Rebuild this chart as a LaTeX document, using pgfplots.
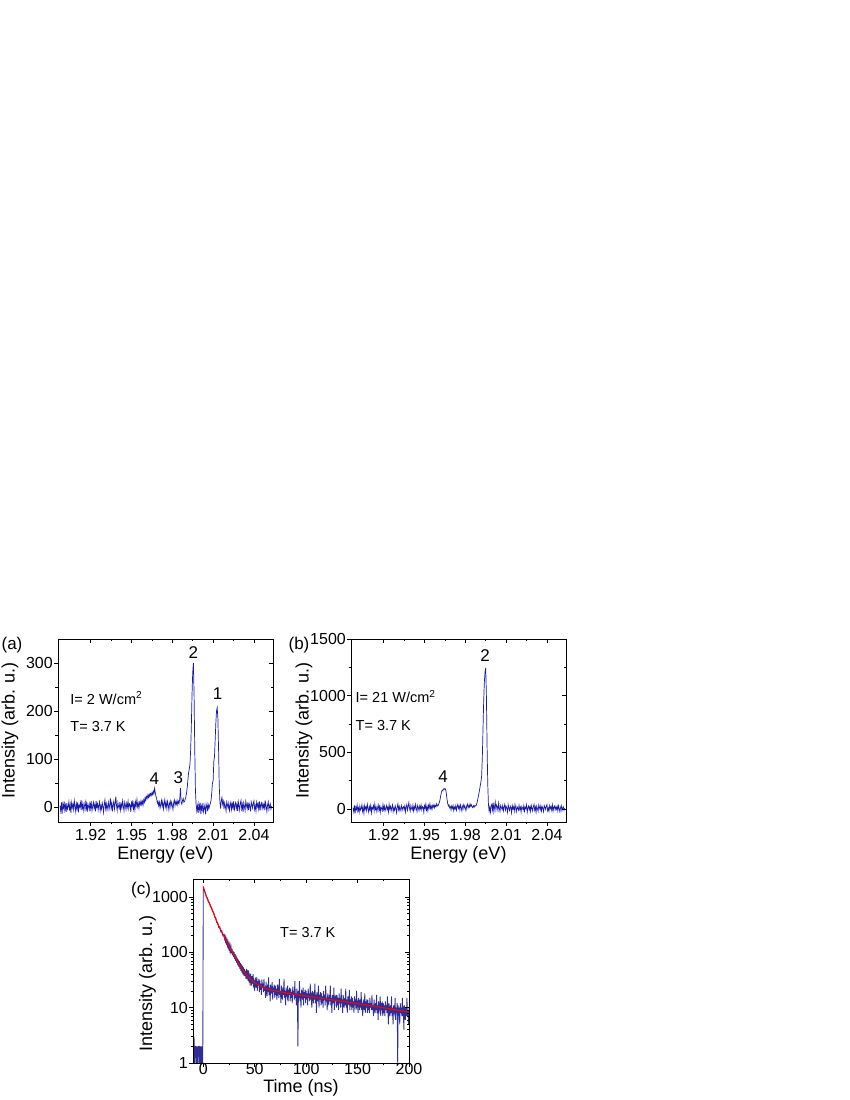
\documentclass[border=0pt]{standalone}
\usepackage{pgfplots}
\pgfplotsset{compat=1.18}
\usepackage{fontspec}
\setmainfont{Liberation Sans}
\definecolor{specblue}{RGB}{25,25,170}
\definecolor{decayblue}{RGB}{10,10,130}
\pgfplotsset{
  panel/.style={scale only axis, anchor=south west,
    axis line style={line width=0.8pt},
    every tick/.style={black, line width=0.6pt},
    major tick length=4pt, minor tick length=2.5pt,
    tick label style={font=\fontsize{16}{19}\selectfont},
    yticklabel style={inner sep=1pt},
    label style={font=\fontsize{18}{21}\selectfont},
    /pgf/number format/assume math mode=true,
    /pgf/number format/1000 sep={}},
  lowerticks/.style={tick align=outside, xtick pos=left, ytick pos=left},
  upperticks/.style={tick align=inside, xtick pos=right, ytick pos=right, xticklabels={}, yticklabels={}},
  specx/.style={xmin=1.896, xmax=2.054, xtick={1.92,1.95,1.98,2.01,2.04}, minor x tick num=1,
    xticklabel style={/pgf/number format/fixed, /pgf/number format/precision=2, /pgf/number format/fixed zerofill}},
}
\begin{document}
\begin{tikzpicture}
\useasboundingbox[fill=white] (0pt,0pt) rectangle (850pt,1100pt);
% ---------------- (a)
\begin{axis}[panel, lowerticks, specx, at={(58pt,278pt)}, width=215pt, height=183pt,
  ymin=-31, ymax=350, ytick={0,100,200,300}, minor y tick num=1,
  xlabel={Energy (eV)}, xlabel style={at={(axis description cs:0.5,-0.18)}, anchor=center},
  ylabel={Intensity (arb. u.)}, ylabel style={at={(axis description cs:-0.223,0.5)}, anchor=center}]
\addplot[specblue, line width=0.7pt] coordinates {
(1.8975,3)(1.898,-8)(1.8985,10)(1.899,-14)(1.8995,6)(1.9,-2)(1.9005,12)(1.901,-6)(1.9015,4)(1.902,-10)
(1.9025,8)(1.903,-4)(1.9035,1)(1.904,11)(1.9045,-7)(1.905,5)(1.9055,-12)(1.906,9)(1.9065,-1)(1.907,6)
(1.9075,-5)(1.908,13)(1.9085,2)(1.909,-9)(1.9095,7)(1.91,-3)(1.9105,10)(1.911,-11)(1.9115,4)(1.912,0)
(1.9125,9)(1.913,-6)(1.9135,14)(1.914,-2)(1.9145,5)(1.915,-8)(1.9155,3)(1.916,11)(1.9165,-4)(1.917,7)
(1.9175,-10)(1.918,6)(1.9185,1)(1.919,-5)(1.9195,12)(1.92,-3)(1.9205,8)(1.921,-7)(1.9215,2)(1.922,10)
(1.9225,-2)(1.923,5)(1.9235,-9)(1.924,13)(1.9245,0)(1.925,7)(1.9255,-6)(1.926,4)(1.9265,11)(1.927,-8)
(1.9275,3)(1.928,-4)(1.9285,9)(1.929,1)(1.9295,-11)(1.93,6)(1.9305,15)(1.931,-3)(1.9315,7)(1.932,-6)
(1.9325,2)(1.933,10)(1.9335,-5)(1.934,4)(1.9345,18)(1.935,-2)(1.9355,8)(1.936,-9)(1.9365,5)(1.937,12)
(1.9375,-4)(1.938,7)(1.9385,22)(1.939,3)(1.9395,-7)(1.94,9)(1.9405,1)(1.941,-3)(1.9415,11)(1.942,-6)
(1.9425,6)(1.943,-1)(1.9435,13)(1.944,2)(1.9445,-8)(1.945,10)(1.9455,4)(1.946,-5)(1.9465,8)(1.947,0)
(1.9475,12)(1.948,-3)(1.9485,7)(1.949,5)(1.9495,-10)(1.95,9)(1.9505,2)(1.951,14)(1.9515,-4)(1.952,6)
(1.9525,-6)(1.953,11)(1.9535,3)(1.954,16)(1.9545,1)(1.955,8)(1.9555,-2)(1.956,10)(1.9565,5)(1.957,13)
(1.9575,5)(1.958,12)(1.9585,4)(1.959,15)(1.9595,10)(1.96,20)(1.9605,14)(1.961,22)(1.9615,18)(1.962,25)
(1.9625,20)(1.963,27)(1.9635,22)(1.964,28)(1.9645,24)(1.965,30)(1.9655,26)(1.966,33)(1.9665,28)(1.967,39)
(1.9675,30)(1.968,22)(1.9685,18)(1.969,8)(1.9695,12)(1.97,3)(1.9705,10)(1.971,-2)(1.9715,6)(1.972,14)
(1.9725,2)(1.973,11)(1.9735,-4)(1.974,7)(1.9745,16)(1.975,1)(1.9755,9)(1.976,-3)(1.9765,12)(1.977,5)
(1.9775,-6)(1.978,8)(1.9785,13)(1.979,0)(1.9795,10)(1.98,4)(1.9805,-5)(1.981,9)(1.9815,15)(1.982,3)
(1.9825,11)(1.983,6)(1.9835,14)(1.984,5)(1.9845,12)(1.985,8)(1.9855,18)(1.986,40)(1.9865,10)(1.987,6)
(1.9875,14)(1.988,18)(1.9885,10)(1.989,12)(1.9895,16)(1.99,22)(1.9905,30)(1.991,42)(1.9915,58)(1.992,72)
(1.9925,80)(1.993,90)(1.9935,120)(1.994,170)(1.9945,235)(1.995,280)(1.9955,300)(1.996,235)(1.9965,120)(1.997,35)
(1.9975,5)(1.998,-8)(1.9985,3)(1.999,-12)(1.9995,6)(2,-5)(2.0005,9)(2.001,-14)(2.0015,2)(2.002,-6)
(2.0025,8)(2.003,-10)(2.0035,-3)(2.004,5)(2.0045,-15)(2.005,1)(2.0055,7)(2.006,-9)(2.0065,4)(2.007,-2)
(2.0075,4)(2.008,8)(2.0085,15)(2.009,30)(2.0095,50)(2.01,55)(2.0105,95)(2.011,105)(2.0115,140)(2.012,175)
(2.0125,200)(2.013,207)(2.0135,185)(2.014,120)(2.0145,45)(2.015,10)(2.0155,-3)(2.016,14)(2.0165,20)(2.017,6)
(2.0175,12)(2.018,-4)(2.0185,9)(2.019,2)(2.0195,-8)(2.02,11)(2.0205,5)(2.021,-2)(2.0215,8)(2.022,-7)
(2.0225,3)(2.023,10)(2.0235,-5)(2.024,7)(2.0245,-1)(2.025,12)(2.0255,-9)(2.026,4)(2.0265,9)(2.027,-3)
(2.0275,6)(2.028,-8)(2.0285,11)(2.029,2)(2.0295,-6)(2.03,8)(2.0305,14)(2.031,-4)(2.0315,5)(2.032,-10)
(2.0325,9)(2.033,1)(2.0335,-7)(2.034,12)(2.0345,4)(2.035,-3)(2.0355,10)(2.036,-6)(2.0365,7)(2.037,2)
(2.0375,-9)(2.038,11)(2.0385,5)(2.039,-2)(2.0395,8)(2.04,13)(2.0405,-5)(2.041,3)(2.0415,-8)(2.042,10)
(2.0425,1)(2.043,7)(2.0435,-4)(2.044,12)(2.0445,-7)(2.045,5)(2.0455,9)(2.046,-3)(2.0465,6)(2.047,-1)
(2.0475,8)(2.048,-6)(2.0485,10)(2.049,2)(2.0495,-9)(2.05,4)(2.0505,11)(2.051,-5)(2.0515,3)(2.052,7)
(2.0525,-4)(2.053,2)};
\node[font=\fontsize{17}{20}\selectfont] at (axis cs:1.9955,321) {2};
\node[font=\fontsize{17}{20}\selectfont] at (axis cs:2.0133,237) {1};
\node[font=\fontsize{17}{20}\selectfont] at (axis cs:1.9668,60) {4};
\node[font=\fontsize{17}{20}\selectfont] at (axis cs:1.9845,62) {3};
\node[font=\fontsize{14.5}{17}\selectfont, anchor=west, inner sep=0pt] at (axis cs:1.905,227) {I= 2 W/cm\textsuperscript{2}};
\node[font=\fontsize{14.5}{17}\selectfont, anchor=west, inner sep=0pt] at (axis cs:1.905,167) {T= 3.7 K};
\end{axis}
\begin{axis}[panel, upperticks, specx, at={(58pt,278pt)}, width=215pt, height=183pt,
  ymin=-31, ymax=350, ytick={0,100,200,300}, minor y tick num=1]
\end{axis}
% ---------------- (b)
\begin{axis}[panel, lowerticks, specx, at={(351pt,278pt)}, width=215pt, height=183pt,
  ymin=-116, ymax=1500, ytick={0,500,1000,1500}, minor y tick num=1,
  xlabel={Energy (eV)}, xlabel style={at={(axis description cs:0.5,-0.18)}, anchor=center},
  ylabel={Intensity (arb. u.)}, ylabel style={at={(axis description cs:-0.219,0.5)}, anchor=center}]
\addplot[specblue, line width=0.7pt] coordinates {
(1.8975,10)(1.898,-25)(1.8985,30)(1.899,-40)(1.8995,15)(1.9,-5)(1.9005,35)(1.901,-20)(1.9015,8)(1.902,-30)
(1.9025,25)(1.903,-10)(1.9035,5)(1.904,35)(1.9045,-22)(1.905,12)(1.9055,-38)(1.906,28)(1.9065,-3)(1.907,18)
(1.9075,-15)(1.908,40)(1.9085,6)(1.909,-28)(1.9095,20)(1.91,-8)(1.9105,30)(1.911,-35)(1.9115,12)(1.912,0)
(1.9125,28)(1.913,-18)(1.9135,42)(1.914,-5)(1.9145,15)(1.915,-25)(1.9155,8)(1.916,35)(1.9165,-12)(1.917,20)
(1.9175,-30)(1.918,18)(1.9185,3)(1.919,-15)(1.9195,38)(1.92,-8)(1.9205,25)(1.921,-20)(1.9215,5)(1.922,30)
(1.9225,-5)(1.923,15)(1.9235,-28)(1.924,40)(1.9245,0)(1.925,22)(1.9255,-18)(1.926,12)(1.9265,35)(1.927,-25)
(1.9275,8)(1.928,-12)(1.9285,28)(1.929,3)(1.9295,-35)(1.93,18)(1.9305,45)(1.931,-8)(1.9315,20)(1.932,-18)
(1.9325,5)(1.933,30)(1.9335,-15)(1.934,12)(1.9345,20)(1.935,-5)(1.9355,25)(1.936,-28)(1.9365,15)(1.937,38)
(1.9375,-12)(1.938,20)(1.9385,55)(1.939,8)(1.9395,-20)(1.94,28)(1.9405,3)(1.941,-10)(1.9415,32)(1.942,-18)
(1.9425,18)(1.943,-3)(1.9435,40)(1.944,5)(1.9445,-25)(1.945,30)(1.9455,12)(1.946,-15)(1.9465,25)(1.947,0)
(1.9475,35)(1.948,-8)(1.9485,20)(1.949,15)(1.9495,-30)(1.95,28)(1.9505,5)(1.951,42)(1.9515,-12)(1.952,18)
(1.9525,-18)(1.953,32)(1.9535,8)(1.954,45)(1.9545,3)(1.955,25)(1.9555,-5)(1.956,30)(1.9565,15)(1.957,38)
(1.9575,10)(1.958,30)(1.9585,20)(1.959,45)(1.9595,25)(1.96,30)(1.9605,45)(1.961,60)(1.9615,85)(1.962,120)
(1.9625,150)(1.963,165)(1.9635,160)(1.964,175)(1.9645,180)(1.965,170)(1.9655,175)(1.966,140)(1.9665,90)(1.967,50)
(1.9675,25)(1.968,35)(1.9685,10)(1.969,20)(1.9695,-10)(1.97,25)(1.9705,5)(1.971,30)(1.9715,-15)(1.972,15)
(1.9725,0)(1.973,28)(1.9735,-12)(1.974,20)(1.9745,40)(1.975,5)(1.9755,25)(1.976,-10)(1.9765,35)(1.977,12)
(1.9775,-18)(1.978,22)(1.9785,38)(1.979,0)(1.9795,28)(1.98,10)(1.9805,-15)(1.981,25)(1.9815,42)(1.982,8)
(1.9825,30)(1.983,15)(1.9835,45)(1.984,22)(1.9845,35)(1.985,18)(1.9855,10)(1.986,28)(1.9865,15)(1.987,30)
(1.9875,25)(1.988,30)(1.9885,50)(1.989,75)(1.9895,105)(1.99,135)(1.9905,170)(1.991,205)(1.9915,240)(1.992,290)
(1.9925,450)(1.993,700)(1.9935,950)(1.994,1120)(1.9945,1210)(1.995,1245)(1.9955,1000)(1.996,550)(1.9965,220)(1.997,40)
(1.9975,-20)(1.998,15)(1.9985,-30)(1.999,25)(1.9995,40)(2,-10)(2.0005,55)(2.001,-25)(2.0015,18)(2.002,60)
(2.0025,-8)(2.003,35)(2.0035,20)(2.004,-15)(2.0045,50)(2.005,5)(2.0055,-22)(2.006,30)(2.0065,12)(2.007,-5)
(2.0075,28)(2.008,-18)(2.0085,15)(2.009,40)(2.0095,-10)(2.01,22)(2.0105,8)(2.011,-30)(2.0115,35)(2.012,5)
(2.0125,-15)(2.013,25)(2.0135,10)(2.014,-35)(2.0145,30)(2.015,0)(2.0155,18)(2.016,-20)(2.0165,38)(2.017,8)
(2.0175,-25)(2.018,20)(2.0185,5)(2.019,-12)(2.0195,32)(2.02,-5)(2.0205,15)(2.021,-28)(2.0215,22)(2.022,10)
(2.0225,-10)(2.023,28)(2.0235,-20)(2.024,15)(2.0245,3)(2.025,35)(2.0255,-30)(2.026,10)(2.0265,25)(2.027,-8)
(2.0275,18)(2.028,-22)(2.0285,30)(2.029,5)(2.0295,-18)(2.03,22)(2.0305,40)(2.031,-12)(2.0315,15)(2.032,-30)
(2.0325,25)(2.033,2)(2.0335,-20)(2.034,35)(2.0345,12)(2.035,-8)(2.0355,28)(2.036,-18)(2.0365,20)(2.037,5)
(2.0375,-25)(2.038,30)(2.0385,15)(2.039,-5)(2.0395,22)(2.04,38)(2.0405,-15)(2.041,8)(2.0415,-22)(2.042,28)
(2.0425,3)(2.043,20)(2.0435,-12)(2.044,35)(2.0445,-20)(2.045,15)(2.0455,25)(2.046,-8)(2.0465,18)(2.047,-3)
(2.0475,22)(2.048,-18)(2.0485,28)(2.049,5)(2.0495,-25)(2.05,12)(2.0505,30)(2.051,-15)(2.0515,8)(2.052,20)
(2.0525,-12)(2.053,5)};
\node[font=\fontsize{17}{20}\selectfont] at (axis cs:1.9946,1357) {2};
\node[font=\fontsize{17}{20}\selectfont] at (axis cs:1.9637,286) {4};
\node[font=\fontsize{14.5}{17}\selectfont, anchor=west, inner sep=0pt] at (axis cs:1.8993,991) {I= 21 W/cm\textsuperscript{2}};
\node[font=\fontsize{14.5}{17}\selectfont, anchor=west, inner sep=0pt] at (axis cs:1.8993,732) {T= 3.7 K};
\end{axis}
\begin{axis}[panel, upperticks, specx, at={(351pt,278pt)}, width=215pt, height=183pt,
  ymin=-116, ymax=1500, ytick={0,500,1000,1500}, minor y tick num=1]
\end{axis}
% ---------------- (c)
\begin{axis}[panel, lowerticks, at={(193pt,37pt)}, width=216pt, height=184pt,
  xmin=-10, xmax=200, xtick={0,50,100,150,200}, minor x tick num=1,
  xticklabel style={yshift=4pt, inner sep=0.5pt},
  ymode=log, ymin=1, ymax=2100, ytick={1,10,100,1000}, log ticks with fixed point,
  xlabel={Time (ns)}, xlabel style={at={(axis description cs:0.5,-0.137)}, anchor=center, inner sep=0.5pt},
  ylabel={Intensity (arb. u.)}, ylabel style={at={(axis description cs:-0.211,0.432)}, anchor=center}]
\addplot[decayblue, line width=0.85pt, opacity=0.85] coordinates {
(-10,2)(-9.5,1)(-9,3)(-8.5,1)(-8,2)(-7.5,2)(-7,1)(-6.5,2)(-6,1)(-5.5,2)(-5,1)(-4.5,2)(-4,2)(-3.5,1)(-3,2)(-2.5,1)(-2,2)(-1.5,1)(-1,2)(-0.5,1)
(0,1450)(1,1280)(2,1180)(3,1000)(4,950)(5,810)(6,790)(7,660)(8,650)(9,540)(10,530)(11,430)(12,425)(13,345)(14,340)(15,280)(16,290)(17,235)(18,245)(19,200)(20,210)
(20.5,178)(21,195)(21.5,160)(22,180)(22.5,148)(23,165)(23.5,132)(24,152)(24.5,122)(25,140)(25.5,112)(26,132)(26.5,104)(27,122)(27.5,95)(28,115)(28.5,88)(29,106)(29.5,82)(30,100)
(30.5,75)(31,92)(31.5,70)(32,87)(32.5,64)(33,80)(33.5,58)(34,74)(34.5,54)(35,70)(35.5,50)(36,64)(36.5,46)(37,60)(37.5,43)(38,57)(38.5,40)(39,53)(39.5,38)
(40,50)(40.5,37)(41,46)(41.5,33)(42,50)(42.5,37)(43,42)(43.5,30)(44,47)(44.5,32)(45,36)(45.5,25)(46,41)(46.5,32)(47,25)(47.5,37)(48,27)(48.5,40)(49,23)(49.5,31)(50,20)
(50.5,35)(51,27)(51.5,23)(52,36)(52.5,20)(53,30)(53.5,25)(54,33)(54.5,19)(55,31)(55.5,21)(56,27)(56.5,17)(57,32)(57.5,23)(58,27)(58.5,19)(59,33)(59.5,20)(60,24)
(60.5,15)(61,29)(61.5,22)(62,16)(62.5,26)(63,19)(63.5,35)(64,17)(64.5,23)(65,13)(65.5,26)(66,21)(66.5,18)(67,29)(67.5,14)(68,23)(68.5,19)(69,26)(69.5,15)(70,25)
(70.5,17)(71,22)(71.5,14)(72,26)(72.5,19)(73,22)(73.5,15)(74,33)(74.5,17)(75,20)(75.5,12)(76,25)(76.5,19)(77,14)(77.5,23)(78,17)(78.5,33)(79,15)(79.5,20)(80,11)
(80.5,23)(81,18)(81.5,16)(82,25)(82.5,13)(83,21)(83.5,17)(84,23)(84.5,13)(85,22)(85.5,15)(86,19)(86.5,12)(87,24)(87.5,17)(88,20)(88.5,14)(89,30)(89.5,15)(90,18)
(90.5,11)(91,22)(91.5,17)(92,2)(92.5,20)(93,15)(93.5,30)(94,13)(94.5,18)(95,10)(95.5,21)(96,17)(96.5,14)(97,23)(97.5,11)(98,19)(98.5,15)(99,21)(99.5,12)(100,20)
(100.5,14)(101,18)(101.5,11)(102,22)(102.5,15)(103,18)(103.5,13)(104,27)(104.5,14)(105,16)(105.5,10)(106,20)(106.5,16)(107,12)(107.5,19)(108,14)(108.5,27)(109,12)(109.5,17)(110,8)
(110.5,19)(111,15)(111.5,13)(112,25)(112.5,10)(113,17)(113.5,14)(114,19)(114.5,11)(115,18)(115.5,12)(116,16)(116.5,10)(117,20)(117.5,14)(118,17)(118.5,11)(119,25)(119.5,13)(120,15)
(120.5,9)(121,18)(121.5,14)(122,11)(122.5,17)(123,13)(123.5,25)(124,11)(124.5,15)(125,8)(125.5,17)(126,14)(126.5,12)(127,23)(127.5,9)(128,16)(128.5,13)(129,17)(129.5,10)(130,17)
(130.5,11)(131,15)(131.5,9)(132,18)(132.5,12)(133,15)(133.5,10)(134,22)(134.5,12)(135,14)(135.5,8)(136,17)(136.5,13)(137,10)(137.5,15)(138,11)(138.5,22)(139,10)(139.5,14)(140,8)
(140.5,16)(141,13)(141.5,11)(142,21)(142.5,9)(143,14)(143.5,12)(144,16)(144.5,9)(145,15)(145.5,10)(146,13)(146.5,8)(147,16)(147.5,11)(148,14)(148.5,9)(149,20)(149.5,11)(150,12)
(150.5,8)(151,15)(151.5,12)(152,9)(152.5,14)(153,10)(153.5,19)(154,9)(154.5,12)(155,7)(155.5,14)(156,11)(156.5,9)(157,18)(157.5,8)(158,13)(158.5,10)(159,14)(159.5,8)(160,14)
(160.5,9)(161,12)(161.5,8)(162,15)(162.5,10)(163,12)(163.5,9)(164,17)(164.5,9)(165,11)(165.5,7)(166,14)(166.5,10)(167,8)(167.5,12)(168,9)(168.5,17)(169,8)(169.5,11)(170,6)
(170.5,13)(171,10)(171.5,9)(172,16)(172.5,7)(173,12)(173.5,9)(174,13)(174.5,7)(175,12)(175.5,8)(176,11)(176.5,7)(177,13)(177.5,9)(178,11)(178.5,8)(179,16)(179.5,9)(180,5)
(180.5,12)(181,10)(181.5,7)(182,11)(182.5,8)(183,16)(183.5,7)(184,10)(184.5,5)(185,11)(185.5,9)(186,8)(186.5,15)(187,6)(187.5,10)(188,8)(188.5,12)(189,1)(189.5,11)(190,7)
(190.5,10)(191,5)(191.5,12)(192,8)(192.5,10)(193,7)(193.5,15)(194,8)(194.5,9)(195,4)(195.5,11)(196,8)(196.5,6)(197,10)(197.5,7)(198,15)(198.5,7)(199,9)(199.5,5)(200,10)};
\addplot[red, line width=1.1pt] coordinates {
(0,1530)(1,1320)(2,1150)(3,1020)(4,920)(5,835)(6,760)(7,690)(8,620)(9,562)(10,510)(11,455)(12,405)(13,365)(14,328)(15,298)(16,272)(17,250)(18,230)(19,212)(20,196)
(22,166)(24,140)(26,119)(28,102)(30,88)(32,76)(34,65)(36,56)(38,49)(40,43.5)(42,39)(44,35.5)(46,32.5)(48,30)(50,28)(52,26.8)(55,25)(60,22.5)(65,21)(70,20)
(75,19.2)(80,18.5)(90,17.2)(100,16.2)(110,15.2)(120,14.3)(130,13.4)(140,12.6)(150,11.8)(160,11)(170,10.3)(180,9.6)(190,8.9)(200,8.3)};
\node[font=\fontsize{14.5}{17}\selectfont] at (axis cs:101.6,223) {T= 3.7 K};
\end{axis}
\begin{axis}[panel, upperticks, at={(193pt,37pt)}, width=216pt, height=184pt,
  xmin=-10, xmax=200, xtick={0,50,100,150,200}, minor x tick num=1,
  ymode=log, ymin=1, ymax=2100, ytick={1,10,100,1000}]
\end{axis}
% panel letters
\node[font=\fontsize{17}{20}\selectfont] at (12pt,455pt) {(a)};
\node[font=\fontsize{17}{20}\selectfont] at (299pt,455pt) {(b)};
\node[font=\fontsize{17}{20}\selectfont] at (141pt,210pt) {(c)};
\end{tikzpicture}
\end{document}
